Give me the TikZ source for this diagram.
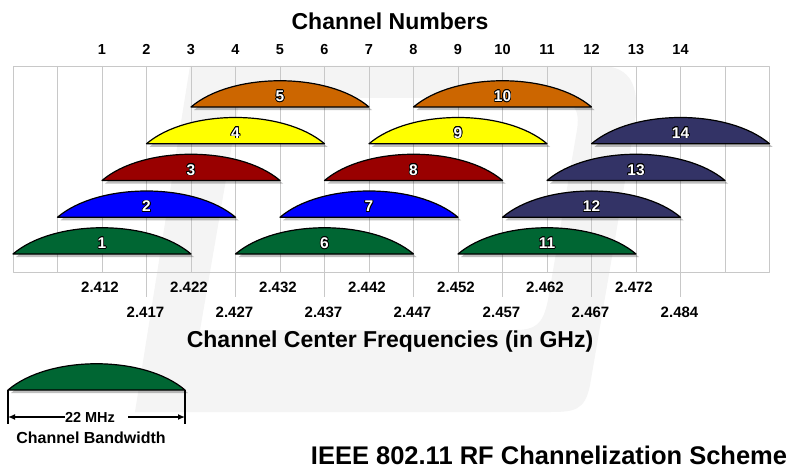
\documentclass[tikz,border=0pt]{standalone}
\usepackage{fontspec}
\setmainfont{Liberation Sans}
\usepackage{contour}
\usetikzlibrary{arrows.meta,shadows}
\contourlength{0.7pt}
\definecolor{chgreen}{RGB}{0,102,51}
\definecolor{chblue}{RGB}{0,0,255}
\definecolor{chred}{RGB}{153,0,0}
\definecolor{chyellow}{RGB}{255,255,0}
\definecolor{chorange}{RGB}{204,102,0}
\definecolor{chnavy}{RGB}{51,51,102}
\definecolor{gridgray}{RGB}{200,200,200}
\begin{document}
\begin{tikzpicture}[x=1pt,y=-1pt,>={Latex[length=7pt,width=6pt]}, line join=round,
	mound/.style={draw=black,line width=1.2pt,drop shadow={shadow xshift=3pt,shadow yshift=-3pt,opacity=.25,fill=black}},
	chtag/.style={font=\fontsize{15.5}{16}\selectfont\bfseries,inner sep=0pt,anchor=base},
	chlabel/.style={font=\fontsize{14.5}{15}\selectfont\bfseries,inner sep=0pt,anchor=base},
	freq/.style={font=\fontsize{15}{15}\selectfont\bfseries,inner sep=0pt,anchor=base},
	heading/.style={font=\fontsize{23}{26}\selectfont\bfseries}]
	\def\gx{13} \def\gw{44.5} % grid start, column width
	\useasboundingbox (0,0) rectangle (791,468);
	\fill[white] (0,0) rectangle (791,468);
	% faint logo behind the grid
	\fill[gray!9, even odd rule] (190,66) -- (600,66) .. controls (640,66) and (640,100) .. (632,140) -- (590,385) .. controls (585,410) and (575,412) .. (550,412) -- (135,412) -- cycle
		(240,98) -- (548,98) .. controls (575,98) and (580,110) .. (577,130) -- (548,300) .. controls (543,325) and (535,330) .. (515,330) -- (200,330) -- cycle;
	% grid
	\draw[gridgray, line width=.8pt] (\gx,66) rectangle (\gx+17*\gw,272);
	\foreach \i in {1,...,16} \draw[gridgray, line width=.8pt] (\gx+\i*\gw,66) -- (\gx+\i*\gw,272);
	\foreach \i in {3,5,...,15} \draw[gridgray, line width=.8pt] (\gx+\i*\gw,272) -- (\gx+\i*\gw,297);
	\node[heading] (numtitle) at (390,21) {Channel Numbers};
	\foreach \k in {1,...,14} \node[chlabel] (num\k) at ({\gx+\gw*(\k+1)},55) {\k};
	% channels
	\foreach \k/\col in {1/chgreen,2/chblue,3/chred,4/chyellow,5/chorange,6/chgreen,7/chblue,8/chred,9/chyellow,10/chorange,11/chgreen,12/chnavy,13/chnavy,14/chnavy}{
		\pgfmathsetmacro\cx{\gx+\gw*(\k+1)}
		\pgfmathsetmacro\yb{254-36.75*mod(\k-1,5)}
		\filldraw[mound,fill=\col] (\cx-89,\yb) .. controls (\cx-48,\yb-35) and (\cx+48,\yb-35) .. (\cx+89,\yb) -- cycle;
		\node[chtag] (ch\k) at (\cx,\yb-5.5) {\contour{black}{\textcolor{white}{\k}}};
	}
	% center frequencies
	\foreach \k/\fq in {1/2.412,3/2.422,5/2.432,7/2.442,9/2.452,11/2.462,13/2.472}
		\node[freq] (fq\k) at ({\gx+\gw*(\k+1)-2},292.5) {\fq};
	\foreach \k/\fq in {2/2.417,4/2.427,6/2.437,8/2.447,10/2.457,12/2.467,14/2.484}
		\node[freq] (fq\k) at ({\gx+\gw*(\k+1)-1},317.5) {\fq};
	\node[heading] (fqtitle) at (390,342) {Channel Center Frequencies (in GHz)};
	% bandwidth legend
	\filldraw[mound,fill=chgreen] (8,390) .. controls (49,355) and (144,355) .. (185,390) -- cycle;
	\draw[line width=1.2pt] (8,390) -- (8,424) (185,390) -- (185,424);
	\coordinate (bwL) at (8,417);
	\coordinate (bwR) at (185,417);
	\node[font=\fontsize{14.5}{15}\selectfont\bfseries, inner sep=0pt] (bw) at (90,417) {22 MHz};
	\draw[->, line width=1.3pt] (bw.west) -- (bwL);
	\draw[->, line width=1.3pt] ([xshift=13pt]bw.east) -- (bwR);
	\node[font=\fontsize{16}{16}\selectfont\bfseries] (bwtext) at (91,438) {Channel Bandwidth};
	\node[font=\fontsize{25.5}{28}\selectfont\bfseries] (scheme) at (549,455) {IEEE 802.11 RF Channelization Scheme};
\end{tikzpicture}
\end{document}
